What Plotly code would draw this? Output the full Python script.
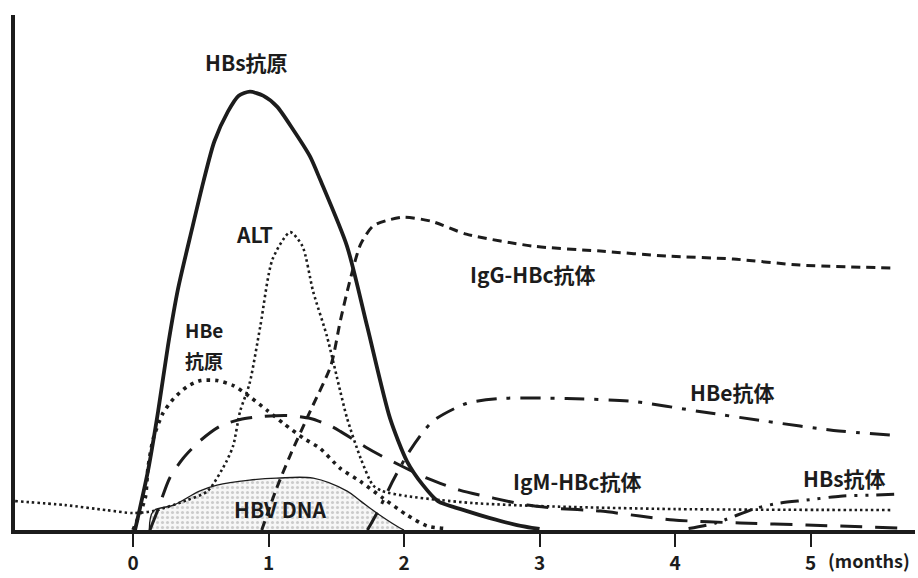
import plotly.graph_objects as go

# --- data (time in months, relative level 0-100) ---
hbs_ag_t = [0.015, 0.11, 0.185, 0.258, 0.332, 0.435, 0.52, 0.60, 0.70, 0.78, 0.863, 0.96, 1.063, 1.181, 1.306, 1.38, 1.579, 1.727, 1.897, 2.022, 2.14, 2.25, 2.465, 2.635, 2.834, 3.0]
hbs_ag_v = [0, 11.8, 23.8, 37, 48.4, 60.4, 70, 78, 84, 87.2, 88, 87.2, 85, 80.4, 75, 70.4, 57, 41, 22.4, 13.8, 9, 5.8, 3.8, 2.4, 1, 0.2]

alt_t = [-0.87, -0.5, -0.2, 0, 0.15, 0.4, 0.55, 0.69, 0.74, 0.79, 0.86, 0.94, 1.03, 1.16, 1.25, 1.33, 1.43, 1.53, 1.58, 1.68, 1.77, 1.84, 2.02, 2.27, 2.51, 3.0, 4.0, 5.6]
alt_v = [5.8, 5, 4, 3.4, 3.8, 6, 7.8, 13.8, 17, 23.8, 29.4, 41, 54.4, 59.8, 57, 47.8, 39, 27.8, 22.4, 14.4, 9, 7.8, 6.8, 6, 5.4, 4.8, 4.2, 4]

hbe_ag_t = [0.0, 0.09, 0.11, 0.15, 0.22, 0.3, 0.4, 0.5, 0.62, 0.74, 0.86, 0.99, 1.11, 1.26, 1.38, 1.528, 1.675, 1.845, 2.022, 2.17, 2.3]
hbe_ag_v = [0, 6.4, 12.4, 18.4, 23.4, 26.4, 28.8, 30, 30, 29, 26.8, 24, 21.4, 18.4, 16.4, 12.4, 9.8, 6.4, 3, 0.8, 0.3]

igg_t = [0.95, 1.06, 1.16, 1.31, 1.46, 1.53, 1.6, 1.68, 1.77, 1.88, 2.0, 2.2, 2.46, 2.95, 3.45, 3.94, 4.43, 4.92, 5.6]
igg_v = [0, 8.4, 15, 24, 33, 42, 50, 57.4, 61, 62.2, 62.8, 62, 59.4, 57, 56, 55, 54.4, 53.2, 52.6]

igm_t = [0.125, 0.18, 0.27, 0.37, 0.49, 0.64, 0.79, 0.96, 1.14, 1.31, 1.45, 1.53, 1.77, 1.97, 2.17, 2.41, 2.66, 2.91, 3.1, 3.45, 3.74, 3.99, 4.48, 4.97, 5.66]
igm_v = [0, 3.8, 10.4, 14.4, 17.8, 20.8, 22.2, 22.8, 23, 22.4, 21, 19.8, 15.8, 13, 10.4, 8, 6.4, 5, 4.4, 3.8, 2.8, 2, 1.4, 1, 0.4]

hbe_ab_t = [1.73, 1.82, 1.92, 2.04, 2.21, 2.46, 2.71, 3.2, 3.69, 4.18, 4.68, 5.17, 5.61]
hbe_ab_v = [0, 4.4, 10, 15.8, 21.8, 25.4, 26.4, 26.4, 25.8, 23.8, 21.8, 20, 19]

hbs_ab_t = [4.1, 4.3, 4.6, 4.77, 4.97, 5.22, 5.46, 5.66]
hbs_ab_v = [0.3, 1.4, 4.4, 5.4, 6, 6.8, 7, 7.2]

dna_t = [0.12, 0.15, 0.30, 0.49, 0.62, 0.86, 1.06, 1.33, 1.58, 1.68, 1.82, 1.97, 2.0]
dna_v = [0, 3.8, 5, 7.8, 9, 10, 10.4, 10.4, 7.8, 5.8, 3, 0.4, 0]

tick_vals = [0, 1, 2, 3, 4, 5]
tick_text = ["0", "1", "2", "3", "4", "5"]

INK = "#1c1c1c"
FONT = "Noto Sans CJK JP"

fig = go.Figure()

fig.add_trace(go.Scatter(
    x=dna_t, y=dna_v, mode="lines", line=dict(color=INK, width=1.3, shape="spline"),
    fill="tozeroy", fillcolor="rgba(0,0,0,0)",
    fillpattern=dict(shape=".", fgcolor="#a0a0a0", bgcolor="#f7f7f7", size=5, solidity=0.3),
    name="HBV DNA", showlegend=False))

def add_line(t, v, width, dash, name):
    fig.add_trace(go.Scatter(x=t, y=v, mode="lines", name=name, showlegend=False,
                             line=dict(color=INK, width=width, dash=dash, shape="spline", smoothing=0.7)))

add_line(alt_t, alt_v, 2.6, "2.5px,3px", "ALT")
add_line(hbe_ag_t, hbe_ag_v, 3.6, "3.5px,5px", "HBe抗原")
add_line(igg_t, igg_v, 3.0, "9px,6px", "IgG-HBc抗体")
add_line(igm_t, igm_v, 3.0, "22px,13px", "IgM-HBc抗体")
add_line(hbe_ab_t, hbe_ab_v, 3.0, "20px,10px,4px,10px", "HBe抗体")
add_line(hbs_ab_t, hbs_ab_v, 3.0, "18px,8px,3px,8px,3px,8px", "HBs抗体")
add_line(hbs_ag_t, hbs_ag_v, 3.8, "solid", "HBs抗原")

labels = [
    ("HBs抗原", 0.834, 94, "center", 21),
    ("ALT", 0.90, 59.4, "center", 21),
    ("HBe", 0.369, 40.2, "left", 19),
    ("抗原", 0.369, 34.0, "left", 19),
    ("IgG-HBc抗体", 2.95, 51.4, "center", 21),
    ("HBe抗体", 4.42, 27.8, "center", 21),
    ("IgM-HBc抗体", 3.28, 9.8, "center", 21),
    ("HBs抗体", 5.25, 10.4, "center", 21),
    ("HBV DNA", 1.085, 4.2, "center", 21),
]
for txt, x, y, anc, sz in labels:
    fig.add_annotation(x=x, y=y, text="<b>" + txt + "</b>", showarrow=False,
                       xanchor=anc, align=anc, font=dict(family=FONT, size=sz, color=INK))

fig.add_annotation(x=5.114, xref="x", y=-0.058, yref="paper", yanchor="middle",
                   text="<b>(months)</b>", showarrow=False, xanchor="left",
                   font=dict(family=FONT, size=18, color=INK))

fig.update_xaxes(range=[-0.871, 5.771], showline=True, linecolor=INK, linewidth=3.5,
                 showgrid=False, zeroline=False, ticks="outside", ticklen=13, tickwidth=2,
                 tickcolor=INK, tickvals=tick_vals, ticktext=["<b>" + s + "</b>" for s in tick_text],
                 tickfont=dict(family=FONT, size=19, color=INK))
fig.update_yaxes(range=[0, 103.4], showline=True, linecolor=INK, linewidth=3.5,
                 showgrid=False, zeroline=False, showticklabels=False, ticks="")

fig.update_layout(width=918, height=578, margin=dict(l=15, r=3, t=15, b=46, pad=0),
                  plot_bgcolor="white", paper_bgcolor="white", showlegend=False)

fig.write_html("out.html", config={"displayModeBar": False},
               post_script="document.body.style.margin='0';document.body.style.overflow='hidden';")
